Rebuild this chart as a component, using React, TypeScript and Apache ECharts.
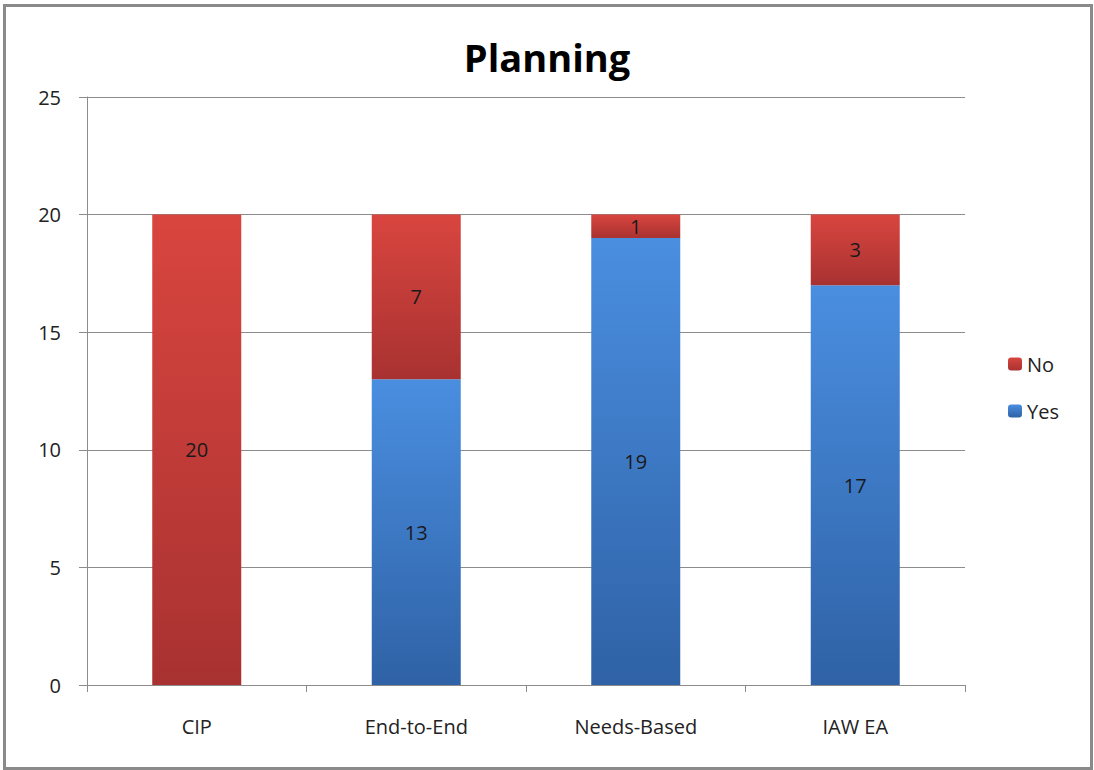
import React, { useEffect, useRef } from "react";
import * as echarts from "echarts";

const categories = ["CIP", "End-to-End", "Needs-Based", "IAW EA"];
const yesValues = [0, 13, 19, 17];
const noValues = [20, 7, 1, 3];
const yTicks = { min: 0, max: 25, interval: 5 };

const FONT = "'Open Sans', 'Noto Sans', sans-serif";

export default function App() {
  const ref = useRef<HTMLDivElement>(null);
  useEffect(() => {
    if (!ref.current) return;
    const chart = echarts.init(ref.current, null, { renderer: "svg" });
    const grad = (top: string, bottom: string) =>
      new echarts.graphic.LinearGradient(0, 0, 0, 1, [
        { offset: 0, color: top },
        { offset: 1, color: bottom },
      ]);
    const labelCfg = {
      show: true,
      position: "inside",
      color: "#1a1a1a",
      fontSize: 20,
      fontFamily: FONT,
      formatter: (p: any) => (p.value ? String(p.value) : ""),
    };
    chart.setOption({
      animation: false,
      backgroundColor: "#ffffff",
      title: {
        text: "Planning",
        left: "center",
        top: 33,
        textStyle: { fontSize: 38, fontWeight: "bold", color: "#000", fontFamily: FONT },
      },
      legend: {
        data: ["No", "Yes"],
        orient: "vertical",
        left: 1003,
        top: 349,
        itemWidth: 14,
        itemHeight: 13,
        itemGap: 27,
        textStyle: { fontSize: 20, color: "#222", fontFamily: FONT },
      },
      grid: { left: 87, right: 129, top: 97, bottom: 85, containLabel: false },
      xAxis: {
        type: "category",
        data: categories,
        axisLine: { lineStyle: { color: "#8c8c8c", width: 1 } },
        axisTick: { show: true, length: 7, lineStyle: { color: "#8c8c8c" } },
        axisLabel: { fontSize: 20, color: "#222", margin: 31, fontFamily: FONT },
      },
      yAxis: {
        type: "value",
        min: yTicks.min,
        max: yTicks.max,
        interval: yTicks.interval,
        axisLine: { show: true, lineStyle: { color: "#8c8c8c", width: 1 } },
        axisTick: { show: true, length: 8, lineStyle: { color: "#8c8c8c" } },
        axisLabel: { fontSize: 20, color: "#222", margin: 26, fontFamily: FONT },
        splitLine: { lineStyle: { color: "#8c8c8c", width: 1 } },
      },
      series: [
        {
          name: "Yes",
          type: "bar",
          stack: "total",
          barWidth: 89,
          data: yesValues,
          itemStyle: { color: grad("#4a8ee0", "#2f62a6") },
          label: labelCfg,
        },
        {
          name: "No",
          type: "bar",
          stack: "total",
          barWidth: 89,
          data: noValues,
          itemStyle: { color: grad("#d9453f", "#a83231") },
          label: labelCfg,
        },
      ],
    });
    return () => chart.dispose();
  }, []);
  return (
    <div
      style={{
        position: "fixed",
        left: 0,
        top: 0,
        width: 1094,
        height: 770,
        background: "#fff",
      }}
    >
      <div
        ref={ref}
        style={{ position: "absolute", left: 0, top: 0, width: 1094, height: 770 }}
      />
      <div
        style={{
          position: "absolute",
          left: 3,
          top: 4,
          width: 1084,
          height: 760,
          border: "3px solid #8a8a8a",
          pointerEvents: "none",
        }}
      />
    </div>
  );
}
